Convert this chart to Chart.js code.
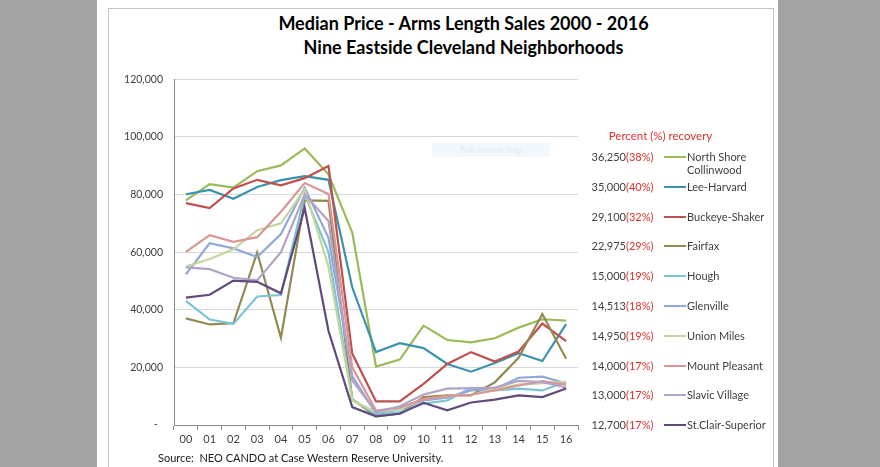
<!DOCTYPE html>
<html>
<head>
<meta charset="utf-8">
<script src="https://cdn.jsdelivr.net/npm/chart.js@4.4.1/dist/chart.umd.min.js"></script>
<style>
    body { margin: 0; width: 880px; height: 467px; background: #a3a3a3; overflow: hidden; font-family: Lato, 'Liberation Sans', sans-serif; }
    #page { position: absolute; left: 97px; top: 0; width: 681px; height: 467px; background: #fff; }
    #frame { position: absolute; left: 108px; top: 8px; width: 666px; height: 470px; border: 1px solid #c4c4c4; box-sizing: border-box; }
    .title { position: absolute; left: 108px; width: 665px; text-align: center; font-weight: bold; font-size: 18px; color: #000; padding-left: 46px; box-sizing: border-box; }
    #chartWrap { position: absolute; left: 110px; top: 62px; width: 475px; height: 405px; }
    #snip { position: absolute; left: 432px; top: 143px; width: 118px; height: 14px; background: #f3f8fc; color: #e2ebf2; font-size: 9px; line-height: 14px; text-align: center; }
    #legendHead { position: absolute; left: 598px; top: 129px; width: 125px; text-align: center; color: #e0302c; font-size: 11.5px; }
    .row { position: absolute; left: 570px; height: 14px; font-size: 11px; line-height: 14px; color: #3f3f3f; }
    .val { position: absolute; left: 0; width: 56px; text-align: right; }
    .pct { position: absolute; left: 56px; color: #e0302c; }
    .mark { position: absolute; left: 94px; top: 6px; width: 22px; height: 2px; }
    .name { position: absolute; left: 117px; white-space: nowrap; line-height: 12.5px; top: 1px; }
    #source { position: absolute; left: 158px; top: 451px; font-size: 11px; color: #1a1a1a; }
</style>
</head>
<body>
<div id="page"></div>
<div id="frame"></div>
<div class="title" style="top:12px;">Median Price - Arms Length Sales 2000 - 2016</div>
<div class="title" style="top:36px;">Nine Eastside Cleveland Neighborhoods</div>
<div id="chartWrap"><canvas id="priceChart"></canvas></div>
<div id="snip">Full-screen Snip</div>
<div id="legendHead">Percent (%) recovery</div>
<div id="legend"></div>
<div id="source">Source:&nbsp; NEO CANDO at Case Western Reserve University.</div>

<script>
// Years along the x axis
const years = ['00', '01', '02', '03', '04', '05', '06', '07', '08', '09', '10', '11', '12', '13', '14', '15', '16'];

const neighborhoods = ['North Shore Collinwood', 'Lee-Harvard', 'Buckeye-Shaker', 'Fairfax', 'Hough',
    'Glenville', 'Union Miles', 'Mount Pleasant', 'Slavic Village', 'St.Clair-Superior'];

// Median sale price per year
const northShore = [78000, 83600, 82400, 88100, 90100, 96000, 87000, 66800, 20300, 22700, 34500, 29500, 28700, 30100, 33800, 36700, 36250];
const leeHarvard = [80100, 81600, 78500, 82600, 85000, 86400, 85100, 47800, 25300, 28400, 26700, 21200, 18500, 21500, 24900, 22200, 35000];
const buckeyeShaker = [77000, 75300, 82100, 85100, 83200, 85700, 89900, 24800, 8200, 8200, 14300, 21200, 25300, 22000, 25500, 35200, 29100];
const fairfax = [37000, 34900, 35300, 59900, 30300, 78000, 77800, 9000, 3000, 4000, 9700, 10300, 10300, 14800, 23300, 38500, 22975];
const hough = [43100, 36600, 35100, 44600, 45100, 80000, 60000, 9000, 3500, 4500, 7400, 8500, 12900, 12000, 12600, 12000, 15000];
const glenville = [52300, 63100, 61300, 58300, 66300, 82400, 65000, 17000, 4000, 5500, 8500, 9500, 12000, 12500, 16400, 16800, 14513];
const unionMiles = [55000, 57600, 61000, 67600, 70000, 81800, 55000, 8500, 4500, 5500, 9000, 10000, 10500, 12500, 14000, 14500, 14950];
const mountPleasant = [60100, 65900, 63600, 65200, 74000, 84000, 80200, 20000, 5000, 6000, 9000, 10000, 10500, 12000, 13700, 15200, 14000];
const slavicVillage = [54700, 54100, 51100, 50200, 60000, 80000, 70800, 15500, 4500, 6500, 10600, 12600, 12800, 13000, 15300, 14900, 13000];
const stClair = [44200, 45200, 50100, 49700, 45700, 75300, 32700, 6200, 3000, 3900, 7700, 5100, 7800, 8800, 10300, 9700, 12700];

// 2016 value and percent of peak recovered
const finalValues = [36250, 35000, 29100, 22975, 15000, 14513, 14950, 14000, 13000, 12700];
const recoveryPct = [38, 40, 32, 29, 19, 18, 19, 17, 17, 17];

const seriesData = [northShore, leeHarvard, buckeyeShaker, fairfax, hough, glenville, unionMiles, mountPleasant, slavicVillage, stClair];
const lineColors = ['#9bbb59', '#3a93ae', '#c0504d', '#938953', '#7cc3d6', '#8fa9d8', '#c3d69b', '#d99694', '#b3a2c7', '#604a7b'];

document.addEventListener('DOMContentLoaded', function() {
    // Legend on the right
    const legend = document.getElementById('legend');
    neighborhoods.forEach(function(name, i) {
        const row = document.createElement('div');
        row.className = 'row';
        row.style.top = (150 + i * 29.8) + 'px';
        const label = name === 'North Shore Collinwood' ? 'North Shore<br>Collinwood' : name;
        row.innerHTML = '<span class="val">' + finalValues[i].toLocaleString('en-US') + '</span>' +
            '<span class="pct">(' + recoveryPct[i] + '%)</span>' +
            '<span class="mark" style="background:' + lineColors[i] + '"></span>' +
            '<span class="name">' + label + '</span>';
        legend.appendChild(row);
    });

    const ctx = document.getElementById('priceChart').getContext('2d');
    const priceChart = new Chart(ctx, {
        type: 'line',
        data: {
            labels: years,
            datasets: seriesData.map(function(values, i) {
                return {
                    label: neighborhoods[i],
                    data: values,
                    borderColor: lineColors[i],
                    backgroundColor: lineColors[i],
                    borderWidth: 2.2,
                    pointRadius: 0,
                    tension: 0,
                    order: seriesData.length - i
                };
            })
        },
        options: {
            responsive: true,
            maintainAspectRatio: false,
            animation: false,
            layout: { padding: { top: 15, right: 7, left: 0, bottom: 0 } },
            plugins: {
                legend: { display: false },
                tooltip: { enabled: false }
            },
            scales: {
                x: {
                    offset: true,
                    grid: { offset: true, drawOnChartArea: false, drawTicks: true, tickLength: 5, color: '#868686' },
                    border: { display: true, color: '#868686' },
                    ticks: { color: '#404040', font: { family: 'Lato', size: 11 }, padding: 3, maxRotation: 0, autoSkip: false },
                    afterFit: function(scale) { scale.height = 42; }
                },
                y: {
                    min: 0,
                    max: 120000,
                    grid: { color: '#d9d9d9', drawTicks: false },
                    border: { display: true, color: '#868686' },
                    ticks: {
                        stepSize: 20000,
                        color: '#404040',
                        font: { family: 'Lato', size: 10.5 },
                        padding: 11,
                        callback: function(value) {
                            return value === 0 ? '-  ' : value.toLocaleString('en-US');
                        }
                    },
                    afterFit: function(scale) { scale.width = 64; }
                }
            }
        }
    });
});
</script>
</body>
</html>
